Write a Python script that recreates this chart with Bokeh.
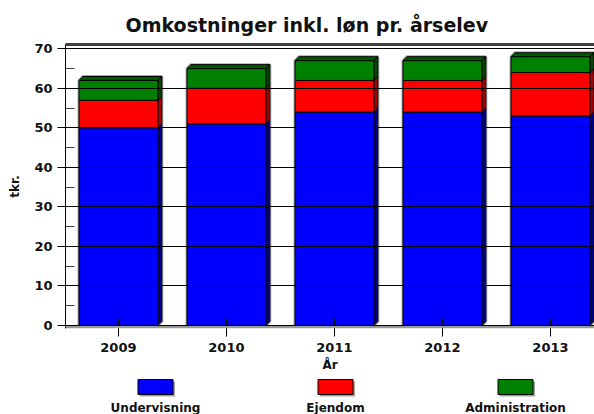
from bokeh.plotting import figure
from bokeh.layouts import column
from bokeh.models import Range1d, FixedTicker, LinearAxis, BoxAnnotation
from bokeh.core.properties import value
from bokeh.embed import file_html
from bokeh.resources import INLINE

# ---- data ----
years = ["2009", "2010", "2011", "2012", "2013"]
undervisning = [50, 51, 54, 54, 53]
ejendom = [7, 9, 8, 8, 11]
administration = [5, 5, 5, 5, 4]
series_names = ["Undervisning", "Ejendom", "Administration"]
y_ticks = [0, 10, 20, 30, 40, 50, 60, 70]
y_minor = [5, 15, 25, 35, 45, 55, 65]

colors = ["#0000FF", "#FF0000", "#008000"]
side_colors = ["#00008C", "#A80000", "#004A00"]
top_color = "#005C00"
FONT = "DejaVu Sans"

n = len(years)
x_pos = list(range(n))
bar_w = 0.73
dx = 0.037   # 3D depth (x, data units)
dy = 1.0     # 3D depth (y, data units)

stack = [undervisning, ejendom, administration]
bottoms, tops = [], []
cum = [0] * n
for s in stack:
    bottoms.append(cum[:])
    cum = [c + v for c, v in zip(cum, s)]
    tops.append(cum[:])
totals = cum

p = figure(width=594, height=374, output_backend="svg", toolbar_location=None,
           x_range=Range1d(-0.49, 4.408), y_range=Range1d(-0.8, 71.1),
           min_border_left=65, min_border_right=0, min_border_top=44,
           min_border_bottom=46)
p.outline_line_color = None
p.background_fill_color = "white"

# title
p.title.text = "Omkostninger inkl. løn pr. årselev"
p.title.text_font = FONT
p.title.text_font_style = "bold"
p.title.text_font_size = "19px"
p.title.align = "left"
p.title.offset = 60
p.title.standoff = 18
p.title.text_color = "#111111"

# shadow band under the baseline
p.add_layout(BoxAnnotation(top=0, fill_color="#9a9a9a", fill_alpha=1.0, line_color=None))

# silhouettes (soft gray halo)
sil_xs, sil_ys = [], []
for i in range(n):
    xl = x_pos[i] - bar_w / 2
    xr = x_pos[i] + bar_w / 2
    T = totals[i]
    sil_xs.append([xl, xl, xl + dx, xr + dx, xr + dx, xr])
    sil_ys.append([0, T, T + dy, T + dy, dy, 0])
p.patches(sil_xs, sil_ys, fill_color=None, line_color="#a8a8a8", line_width=3)

# side faces
for k in range(len(stack)):
    xs, ys = [], []
    for i in range(n):
        xr = x_pos[i] + bar_w / 2
        b, t = bottoms[k][i], tops[k][i]
        xs.append([xr, xr + dx, xr + dx, xr])
        ys.append([b, b + dy, t + dy, t])
    p.patches(xs, ys, fill_color=side_colors[k], line_color="black", line_width=1)

# top faces
txs, tys = [], []
for i in range(n):
    xl = x_pos[i] - bar_w / 2
    xr = x_pos[i] + bar_w / 2
    T = totals[i]
    txs.append([xl, xl + dx, xr + dx, xr])
    tys.append([T, T + dy, T + dy, T])
p.patches(txs, tys, fill_color=top_color, line_color="black", line_width=1)

# front faces
for k in range(len(stack)):
    p.vbar(x=x_pos, width=bar_w, bottom=bottoms[k], top=tops[k],
           fill_color=colors[k], line_color="black", line_width=1)

# y axis
yax = p.yaxis[0]
yax.ticker = FixedTicker(ticks=y_ticks, minor_ticks=y_minor)
yax.major_tick_out = 8
yax.major_tick_in = 0
yax.minor_tick_in = 9
yax.minor_tick_out = 0
yax.minor_tick_line_color = "#404040"
yax.major_tick_line_color = "black"
yax.axis_line_color = "black"
yax.major_label_standoff = 5
yax.major_label_text_font = FONT
yax.major_label_text_font_style = "bold"
yax.major_label_text_font_size = "13px"
yax.major_label_text_color = "#111111"
yax.axis_label = "tkr."
yax.axis_label_text_font = FONT
yax.axis_label_text_font_style = "bold"
yax.axis_label_text_font_size = "12px"
yax.axis_label_standoff = 9
yax.axis_label_text_color = "#111111"

# x axis
xax = p.xaxis[0]
xax.ticker = FixedTicker(ticks=x_pos)
xax.major_label_overrides = {i: y for i, y in zip(x_pos, years)}
xax.major_tick_in = 10
xax.major_tick_out = 8
xax.minor_tick_line_color = None
xax.axis_line_color = None
xax.major_tick_line_color = "black"
xax.major_label_standoff = 6
xax.major_label_text_font = FONT
xax.major_label_text_font_style = "bold"
xax.major_label_text_font_size = "13px"
xax.major_label_text_color = "#111111"
xax.axis_label = "År"
xax.axis_label_text_font = FONT
xax.axis_label_text_font_style = "bold"
xax.axis_label_text_font_size = "12px"
xax.axis_label_standoff = 3
xax.axis_label_text_color = "#111111"

# top frame line
top_ax = LinearAxis(ticker=FixedTicker(ticks=[]), major_tick_out=0, major_tick_in=0,
                    minor_tick_out=0, minor_tick_in=0, major_label_text_font_size="0px",
                    axis_line_color="#404040", axis_line_width=3)
p.add_layout(top_ax, "above")

# grid over the bars
p.xgrid.visible = False
p.ygrid.ticker = FixedTicker(ticks=y_ticks)
p.ygrid.grid_line_color = "black"
p.ygrid.grid_line_width = 1
p.ygrid.level = "overlay"

# ---- legend (frame is aligned with the main frame: page px 65..594) ----
leg = figure(width=594, height=40, output_backend="svg", toolbar_location=None,
             x_range=Range1d(65, 594), y_range=Range1d(0, 40),
             x_axis_type=None, y_axis_type=None,
             min_border_left=65, min_border_right=0, min_border_top=0, min_border_bottom=0)
leg.outline_line_color = None
leg.xgrid.visible = False
leg.ygrid.visible = False
leg_x = [155 + 180 * i for i in range(len(series_names))]
leg.rect(x=[v + 2 for v in leg_x], y=25.5, width=35, height=15, fill_color="#a0a0a0", line_color=None)
leg.rect(x=leg_x, y=27.5, width=35, height=15, fill_color=colors, line_color="black", line_width=1)
leg.text(x=leg_x, y=14, text=series_names, text_font=value(FONT), text_font_style="bold",
         text_font_size="12px", text_align="center", text_baseline="top", text_color="#111111")

layout = column(p, leg, spacing=0)
open("out.html", "w").write(file_html(layout, INLINE))
